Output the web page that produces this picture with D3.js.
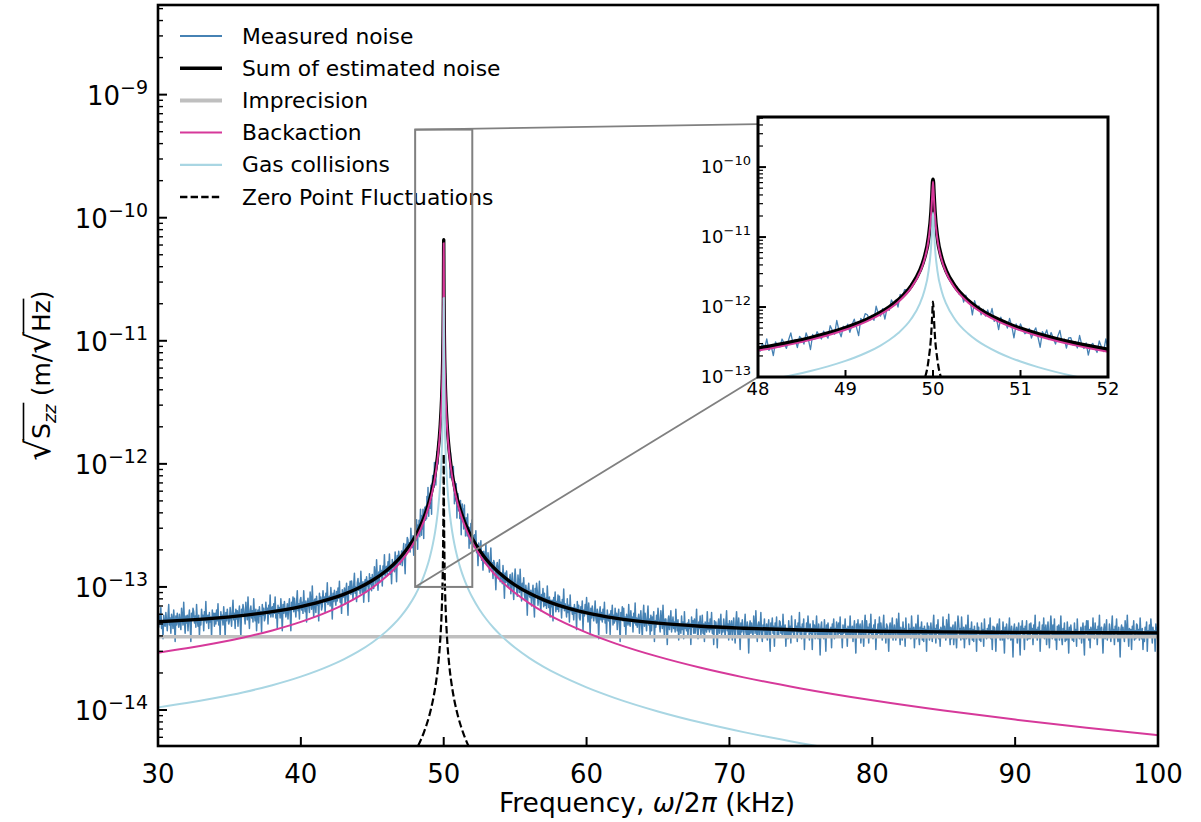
<!DOCTYPE html>
<html>
<head>
<meta charset="utf-8">
<script src="https://cdn.jsdelivr.net/npm/d3@7"></script>
<style>
body { margin: 0; background: #fff; }
svg { display: block; }
text { font-family: "DejaVu Sans", sans-serif; fill: #000; }
</style>
</head>
<body>
<div id="chart"></div>
<script>
// all amplitudes in units of 1e-15 m/sqrt(Hz), frequencies in kHz

// measured spectrum, 30.00 - 47.95 kHz, step 0.05
const noiseA = [
  56, 47, 60, 50, 68, 46, 53, 38, 59, 50,   48, 62, 53, 44, 58, 72, 49, 56, 42, 60,
  55, 46, 65, 52, 36, 58, 49, 61, 53, 47,   60, 52, 45, 67, 56, 49, 75, 53, 42, 58,
  51, 59, 44, 56, 65, 49, 36, 61, 54, 67,   63, 51, 58, 47, 72, 54, 48, 59, 40, 55,
  49, 66, 54, 59, 44, 63, 53, 76, 51, 58,   59, 46, 62, 52, 57, 39, 65, 54, 61, 48,
  61, 50, 65, 53, 73, 49, 57, 40, 63, 54,   59, 49, 69, 56, 39, 62, 53, 66, 57, 50,
  53, 68, 58, 48, 63, 78, 54, 61, 46, 66,   55, 64, 48, 60, 70, 53, 39, 66, 59, 72,
  66, 57, 50, 75, 62, 54, 83, 59, 46, 64,   70, 56, 64, 52, 80, 60, 53, 66, 44, 61,
  65, 51, 69, 58, 63, 43, 72, 59, 67, 53,   56, 75, 62, 67, 50, 71, 60, 86, 57, 66,
  69, 57, 73, 61, 83, 56, 65, 46, 71, 61,   68, 56, 80, 64, 44, 72, 61, 76, 65, 57,
  63, 73, 55, 69, 80, 60, 44, 75, 67, 83,   63, 81, 68, 57, 75, 93, 64, 73, 55, 78,
  82, 65, 75, 61, 93, 70, 63, 77, 52, 72,   81, 70, 62, 91, 76, 66, 102, 72, 57, 78,
  80, 62, 84, 71, 77, 53, 89, 73, 83, 65,   70, 93, 77, 83, 62, 89, 75, 108, 72, 82,
  84, 70, 99, 80, 55, 89, 76, 94, 81, 71,   92, 77, 98, 81, 111, 75, 87, 61, 95, 82,
  85, 98, 73, 92, 107, 80, 59, 101, 90, 111,   87, 112, 95, 79, 104, 129, 89, 100, 76, 108,
  117, 94, 107, 88, 134, 101, 90, 110, 75, 103,   115, 90, 121, 102, 112, 76, 128, 105, 119, 93,
  126, 110, 97, 146, 123, 107, 166, 119, 94, 132,   111, 149, 124, 136, 102, 148, 126, 183, 123, 142,
  147, 124, 160, 134, 185, 127, 149, 106, 167, 145,   159, 133, 192, 156, 110, 180, 154, 195, 171, 152,
  167, 196, 149, 190, 225, 171, 128, 222, 202, 252,   242, 197, 229, 192, 300, 230, 209, 261, 181, 255
]
// measured spectrum, 48.000 - 52.000 kHz, step 0.025
const noiseB = [
  277, 234, 303, 253, 351, 240, 282, 202, 318, 276,
  269, 349, 300, 256, 340, 427, 299, 343, 263, 380,
  353, 296, 427, 349, 247, 406, 349, 444, 390, 349,
  453, 401, 358, 542, 461, 408, 642, 465, 375, 531,
  479, 568, 435, 561, 671, 517, 390, 688, 634, 803,
  776, 644, 760, 646, 1026, 802, 743, 949, 673, 972,
  900, 1263, 1100, 1258, 999, 1518, 1369, 1766,
  1762, 1705, 2154, 2103, 2615, 2730, 3448, 3859, 5113, 6471, 10038, 18870,
  64320,
  19237, 9634, 6791, 4805, 4125, 3141, 3004, 2331, 2380, 1845, 1929, 1521,
  1617, 1175, 1480, 1165, 1200, 770, 1230, 961, 1037, 774,
  930, 742, 911, 723, 953, 622, 696, 475, 715, 593,
  623, 500, 689, 538, 363, 572, 471, 573, 482, 414,
  436, 494, 360, 442, 504, 370, 266, 446, 391, 471,
  343, 432, 359, 296, 381, 463, 315, 349, 259, 363,
  364, 287, 322, 260, 392, 290, 255, 307, 206, 280,
  303, 259, 224, 328, 269, 231, 350, 245
]
// measured spectrum, 52.05 - 100.00 kHz, step 0.05
const noiseC = [
  261, 212, 265, 214, 286, 190, 215, 149, 227, 191,   189, 237, 165, 193, 137, 195, 175, 156, 223, 156,
  151, 190, 159, 132, 170, 207, 141, 157, 117, 164,   156, 133, 95, 146, 158, 120, 135, 166, 110, 125,
  130, 106, 149, 119, 81, 130, 109, 135, 115, 100,   100, 116, 126, 88, 108, 130, 99, 79, 114, 140,
  111, 96, 84, 125, 104, 90, 139, 98, 77, 107,   94, 119, 86, 79, 103, 89, 59, 96, 107, 84,
  82, 94, 70, 88, 103, 77, 57, 97, 87, 107,   93, 71, 82, 111, 74, 64, 87, 77, 97, 69,
  89, 71, 81, 67, 102, 77, 68, 83, 57, 78,   69, 78, 53, 82, 72, 91, 63, 76, 66, 86,
  63, 84, 69, 75, 56, 79, 67, 96, 64, 73,   67, 57, 80, 62, 71, 52, 86, 64, 68, 60,
  68, 54, 72, 61, 67, 45, 76, 63, 71, 56,   54, 69, 61, 77, 44, 65, 58, 72, 61, 82,
  63, 52, 74, 59, 41, 67, 56, 70, 61, 53,   60, 77, 56, 51, 66, 57, 38, 62, 69, 54,
  62, 52, 66, 55, 75, 51, 59, 42, 65, 55,   53, 60, 41, 64, 56, 71, 49, 59, 51, 67,
  53, 61, 45, 57, 66, 50, 36, 62, 56, 69,   53, 67, 48, 57, 41, 60, 54, 49, 72, 51,
  48, 64, 53, 57, 43, 61, 51, 74, 49, 56,   47, 55, 60, 42, 53, 64, 49, 39, 57, 71,
  48, 61, 52, 44, 57, 70, 49, 55, 41, 59,   44, 57, 50, 63, 36, 53, 47, 59, 50, 67,
  57, 49, 43, 64, 53, 46, 71, 50, 39, 55,   55, 47, 34, 53, 58, 45, 51, 64, 43, 49,
  57, 46, 52, 43, 66, 49, 44, 54, 37, 50,   49, 42, 58, 45, 52, 38, 63, 46, 50, 44,
  51, 40, 54, 46, 50, 34, 57, 47, 53, 42,   55, 42, 49, 66, 44, 38, 52, 46, 58, 41,
  46, 59, 42, 50, 36, 52, 48, 43, 63, 45,   51, 43, 55, 45, 62, 42, 48, 34, 53, 46,
  52, 45, 32, 50, 55, 42, 49, 60, 41, 47,   43, 55, 47, 39, 51, 64, 44, 50, 37, 53,
  41, 48, 53, 37, 47, 56, 43, 35, 51, 63,   48, 40, 56, 45, 31, 51, 43, 54, 46, 41,
  47, 60, 43, 40, 52, 45, 29, 48, 53, 42,   51, 44, 39, 58, 48, 42, 64, 45, 36, 49,
  52, 40, 46, 62, 42, 36, 49, 44, 55, 39,   43, 50, 37, 47, 54, 41, 30, 51, 46, 56,
  42, 48, 33, 51, 45, 57, 39, 47, 41, 53,   52, 42, 48, 39, 60, 45, 40, 49, 33, 46,
  45, 38, 53, 41, 48, 35, 58, 43, 46, 40,   40, 54, 44, 48, 36, 51, 43, 62, 41, 47,
  38, 50, 44, 55, 31, 46, 41, 51, 43, 58,   47, 37, 50, 42, 46, 31, 53, 43, 49, 38,
  45, 58, 42, 38, 50, 43, 28, 47, 52, 40,   46, 38, 54, 43, 30, 49, 41, 51, 44, 39,
  42, 47, 32, 50, 44, 55, 38, 46, 40, 52,   48, 40, 51, 42, 57, 39, 45, 32, 49, 42,
  43, 55, 39, 46, 33, 48, 44, 40, 58, 41,   42, 48, 36, 45, 53, 40, 29, 50, 44, 54,
  39, 46, 50, 35, 44, 53, 41, 33, 48, 59,   39, 53, 43, 47, 35, 50, 42, 60, 40, 46,
  38, 49, 43, 54, 31, 45, 40, 50, 42, 57,   40, 51, 44, 37, 48, 59, 41, 46, 35, 50,
  48, 41, 30, 47, 51, 39, 45, 56, 37, 43,   49, 42, 37, 55, 46, 40, 61, 43, 34, 47,
  43, 37, 52, 40, 46, 33, 56, 41, 44, 39,   50, 40, 46, 38, 58, 43, 39, 47, 32, 44,
  50, 38, 44, 59, 40, 34, 47, 42, 52, 37,   46, 36, 48, 41, 45, 30, 51, 42, 48, 37,
  40, 51, 43, 36, 48, 59, 41, 46, 35, 49,   42, 54, 38, 45, 33, 47, 43, 39, 57, 41,
  48, 42, 37, 54, 45, 39, 60, 43, 34, 47,   38, 45, 49, 34, 43, 52, 40, 32, 47, 58,
  50, 40, 46, 37, 57, 43, 38, 47, 32, 44,   49, 38, 43, 59, 40, 34, 46, 41, 52, 37,
  45, 36, 48, 40, 44, 30, 51, 42, 47, 37,   43, 36, 51, 39, 45, 33, 55, 41, 44, 38,
  46, 39, 49, 41, 56, 38, 44, 31, 48, 41,   47, 41, 30, 46, 50, 39, 44, 55, 37, 42,
  44, 37, 52, 42, 29, 47, 40, 50, 43, 38,   44, 56, 40, 37, 48, 41, 27, 45, 50, 39,
  41, 47, 35, 44, 51, 38, 28, 48, 43, 53,   40, 46, 31, 48, 42, 53, 37, 44, 38, 50,
  38, 51, 42, 46, 34, 49, 41, 59, 39, 45,   37, 47, 42, 52, 30, 44, 39, 49, 41, 56,
  38, 44, 49, 34, 43, 52, 40, 32, 46, 58,   46, 38, 49, 40, 55, 37, 43, 31, 48, 41,
  49, 37, 43, 58, 39, 34, 46, 41, 51, 36,   44, 37, 52, 42, 29, 47, 40, 49, 43, 37,
  43, 36, 51, 39, 45, 33, 55, 40, 43, 38,   40, 47, 35, 44, 51, 38, 28, 48, 43, 53,
  41, 53, 37, 45, 32, 47, 43, 39, 56, 40,   38, 51, 42, 45, 34, 48, 41, 59, 39, 45,
  47, 40, 29, 45, 50, 38, 44, 54, 37, 42,   39, 50, 42, 36, 47, 58, 40, 45, 34, 48,
  43, 55, 40, 36, 47, 41, 27, 45, 49, 39,   47, 41, 36, 53, 45, 39, 59, 42, 33, 46,
  40, 45, 31, 48, 42, 53, 37, 44, 38, 50,   49, 39, 45, 37, 56, 42, 38, 46, 31, 43,
  36, 47, 41, 52, 30, 44, 39, 49, 41, 55,   45, 35, 47, 40, 44, 30, 50, 41, 47, 36
]

// estimated noise curves, read at these frequencies
const modelFreq = [30, 32, 34, 36, 38, 40, 42, 43, 44, 45, 46, 46.5, 47, 47.5, 48, 48.2, 48.4, 48.6, 48.8, 49,
  49.1, 49.25, 49.4, 49.5, 49.6, 49.75, 49.85, 49.9, 49.95, 49.98, 49.99, 50, 50.01, 50.02, 50.05, 50.1,
  50.15, 50.25, 50.4, 50.5, 50.6, 50.75, 50.9, 51, 51.2, 51.4, 51.6, 51.8, 52, 52.5, 53, 53.5, 54, 55, 56,
  57, 58, 60, 62, 65, 68, 71, 75, 80, 85, 90, 95, 100]
const sumNoise = [52.1, 53.7, 55.8, 58.8, 63.0, 69.3, 79.5, 87.1, 97.6, 112.7, 136.1, 153.0, 175.9, 208.2, 257.1,
  284.5, 318.6, 362.7, 421.6, 504.0, 559.1, 669.4, 835, 1000.5, 1249, 1994, 3316, 4965, 9842, 23288, 39792,
  66309, 39779, 23277, 9831, 4954, 3306, 1984, 1239, 990.6, 825, 659.5, 549.2, 494.2, 411.6, 352.8, 308.8,
  274.6, 247.4, 198.6, 166.3, 143.5, 126.6, 103.5, 88.7, 78.5, 71.1, 61.6, 55.8, 50.8, 47.9, 46.2, 44.7,
  43.7, 43.1, 42.7, 42.5, 42.3]
const backaction = [29.25, 31.71, 34.82, 38.87, 44.32, 52.0, 63.59, 71.89, 82.98, 98.53, 121.9, 138.6, 160.8,
  192.0, 238.8, 264.8, 297.3, 339.0, 394.7, 472.7, 524.7, 628.7, 784.7, 940.7, 1174.7, 1875.7, 3120, 4671.6,
  9261, 21915, 37446, 62400, 37434, 21905, 9252, 4662, 3111, 1866.5, 1165.3, 931.3, 775.3, 619.4, 515.4,
  463.4, 385.4, 329.7, 287.9, 255.4, 229.4, 182.6, 151.5, 129.2, 112.5, 89.14, 73.58, 62.48, 54.17, 42.55,
  34.82, 27.13, 22.03, 18.42, 14.98, 12.0, 9.905, 8.357, 7.172, 6.24]
const gasCollisions = [10.5, 11.38, 12.5, 13.95, 15.91, 18.67, 22.83, 25.81, 29.79, 35.37, 43.75, 49.74, 57.73,
  68.92, 85.71, 95.04, 106.7, 121.7, 141.7, 169.7, 188.4, 225.7, 281.7, 337.7, 421.7, 673.3, 1120, 1677,
  3324.6, 7867, 13442, 22400, 13438, 7863, 3321, 1673.6, 1117, 670.0, 418.3, 334.3, 278.3, 222.3, 185.0,
  166.3, 138.3, 118.3, 103.3, 91.69, 82.35, 65.56, 54.37, 46.38, 40.38, 32.0, 26.42, 22.43, 19.44, 15.27,
  12.5, 9.739, 7.91, 6.612, 5.376, 4.308, 3.556, 3.0, 2.575, 2.24]
const zeroPoint = [0.5625, 0.61, 0.67, 0.748, 0.852, 1.0, 1.223, 1.382, 1.596, 1.895, 2.344, 2.665, 3.093,
  3.692, 4.592, 5.09, 5.716, 6.52, 7.591, 9.09, 10.09, 12.09, 15.09, 18.09, 22.59, 36.07, 60.0, 89.84,
  178.1, 421.4, 720.1, 1200, 719.9, 421.2, 177.9, 89.66, 59.84, 35.89, 22.41, 17.91, 14.91, 11.91, 9.911,
  8.911, 7.411, 6.34, 5.536, 4.91, 4.412, 3.512, 2.913, 2.484, 2.163, 1.714, 1.415, 1.202, 1.042, 0.818,
  0.67, 0.522, 0.424, 0.354, 0.288, 0.231, 0.19, 0.161, 0.138, 0.12]
const imprecisionLevel = 39.4

const legendLabels = ["Measured noise", "Sum of estimated noise", "Imprecision", "Backaction",
  "Gas collisions", "Zero Point Fluctuations"]
const xTicks = [30, 40, 50, 60, 70, 80, 90, 100]
const yExponents = [-14, -13, -12, -11, -10, -9]
const insetXTicks = [48, 49, 50, 51, 52]
const insetYExponents = [-13, -12, -11, -10]
const zoomBox = {f0: 48, f1: 52, a0: 1e-13, a1: 5.2e-10}

const fm = 1e-15
const measured = [
  ...noiseA.map((v, i) => [30 + i / 20, v]),
  ...noiseB.map((v, i) => [48 + i / 40, v]),
  ...noiseC.map((v, i) => [(1041 + i) / 20, v])
]
const pairs = vals => modelFreq.map((f, i) => [f, vals[i]])

const styles = [
  {color: "#4682b4", width: 1.5, insetWidth: 1.3, legendWidth: 1.8},
  {color: "#000000", width: 3.4, insetWidth: 4, legendWidth: 3.4},
  {color: "#bfbfbf", width: 3.4, insetWidth: 3.4, legendWidth: 4},
  {color: "#d6399a", width: 2, insetWidth: 2, legendWidth: 2},
  {color: "#a9d6e3", width: 2, insetWidth: 2, legendWidth: 2.2},
  {color: "#000000", width: 2.2, insetWidth: 2.2, legendWidth: 2.4, dash: "7.4,3.2"}
]
const series = [
  measured,
  pairs(sumNoise),
  [[30, imprecisionLevel], [100, imprecisionLevel]],
  pairs(backaction),
  pairs(gasCollisions),
  pairs(zeroPoint)
]

const width = 1201, height = 822
const svg = d3.select("#chart").append("svg")
  .attr("width", width).attr("height", height)

const x = d3.scaleLinear().domain([30, 100]).range([158, 1158])
const y = d3.scaleLog().domain([5.1e-15, 5.35e-9]).range([746, 5])
const ix = d3.scaleLinear().domain([48, 52]).range([758, 1108])
const iy = d3.scaleLog().domain([1e-13, 5.2e-10]).range([377, 117])

const defs = svg.append("defs")
defs.append("clipPath").attr("id", "clipMain").append("rect")
  .attr("x", 158).attr("y", 5).attr("width", 1000).attr("height", 741)
defs.append("clipPath").attr("id", "clipInset").append("rect")
  .attr("x", 758).attr("y", 117).attr("width", 350).attr("height", 260)

function drawSeries(g, sx, sy, inset) {
  series.forEach((data, i) => {
    const line = d3.line().x(d => sx(d[0])).y(d => sy(d[1] * fm))
    if (i > 0) line.curve(d3.curveMonotoneX)
    const s = styles[i]
    g.append("path").datum(data)
      .attr("d", line)
      .attr("fill", "none")
      .attr("stroke", s.color)
      .attr("stroke-width", inset ? s.insetWidth : s.width)
      .attr("stroke-linejoin", "round")
      .attr("stroke-dasharray", s.dash || null)
  })
}

function powLabel(g, px, py, e, big, small, rise) {
  const t = g.append("text").attr("x", px).attr("y", py)
    .attr("text-anchor", "end").style("font-size", big + "px")
  t.append("tspan").text("10")
  t.append("tspan").attr("dy", -rise).style("font-size", small + "px").text("\u2212" + Math.abs(e))
}

function minorValues(scale) {
  const [lo, hi] = scale.domain()
  const out = []
  for (let e = -16; e <= -8; e++)
    for (let k = 2; k <= 9; k++) {
      const v = k * Math.pow(10, e)
      if (v > lo && v < hi) out.push(v)
    }
  return out
}

// ---- main axes
const layer_main = svg.append("g").attr("clip-path", "url(#clipMain)")
drawSeries(layer_main, x, y, false)

const layer_axes = svg.append("g")
minorValues(y).forEach(v => {
  layer_axes.append("line").attr("x1", 158).attr("x2", 163)
    .attr("y1", y(v)).attr("y2", y(v)).attr("stroke", "#000").attr("stroke-width", 1.4)
})
yExponents.forEach(e => {
  const v = Math.pow(10, e)
  layer_axes.append("line").attr("x1", 158).attr("x2", 167)
    .attr("y1", y(v)).attr("y2", y(v)).attr("stroke", "#000").attr("stroke-width", 2)
  powLabel(layer_axes, 148, y(v) + 10, e, 26, 19, 11)
})
xTicks.forEach(t => {
  layer_axes.append("line").attr("x1", x(t)).attr("x2", x(t))
    .attr("y1", 746).attr("y2", 737).attr("stroke", "#000").attr("stroke-width", 2)
  layer_axes.append("text").attr("x", x(t)).attr("y", 783)
    .attr("text-anchor", "middle").style("font-size", "26px").text(t)
})
layer_axes.append("rect").attr("x", 158).attr("y", 5).attr("width", 1000).attr("height", 741)
  .attr("fill", "none").attr("stroke", "#000").attr("stroke-width", 2.6)

// x label
const xl = layer_axes.append("text").attr("x", 647).attr("y", 812)
  .attr("text-anchor", "middle").style("font-size", "26.5px")
xl.append("tspan").text("Frequency, ")
xl.append("tspan").style("font-style", "italic").text("\u03c9")
xl.append("tspan").text("/2")
xl.append("tspan").style("font-style", "italic").text("\u03c0")
xl.append("tspan").text(" (kHz)")

// y label with radicals
const gy = layer_axes.append("g").attr("transform", "translate(50,375.5) rotate(-90)")
const yt = gy.append("text").attr("text-anchor", "middle").style("font-size", "25px")
yt.append("tspan").style("font-size", "34px").text("\u221a")
yt.append("tspan").text("S")
yt.append("tspan").style("font-style", "italic").style("font-size", "18px").attr("dy", 6).text("zz")
yt.append("tspan").attr("dy", -6).text(" (m/")
yt.append("tspan").style("font-size", "34px").text("\u221a")
yt.append("tspan").text("Hz)")
const yn = yt.node()
;[[0, 3], [8, 10]].forEach(([a, b]) => {
  const p0 = yn.getEndPositionOfChar(a).x
  const p1 = yn.getEndPositionOfChar(b).x
  gy.append("line").attr("x1", p0 - 1.5).attr("x2", p1 + 1.5)
    .attr("y1", -26.5).attr("y2", -26.5).attr("stroke", "#000").attr("stroke-width", 1.6)
})

// ---- legend
const layer_legend = svg.append("g")
legendLabels.forEach((label, i) => {
  const ly = 36 + i * 32.2
  const s = styles[i]
  layer_legend.append("line").attr("x1", 180).attr("x2", 222).attr("y1", ly).attr("y2", ly)
    .attr("stroke", s.color).attr("stroke-width", s.legendWidth)
    .attr("stroke-dasharray", s.dash || null)
  layer_legend.append("text").attr("x", 242).attr("y", ly + 7.5)
    .style("font-size", "21.8px").text(label)
})

// ---- zoom indicator
const layer_zoom = svg.append("g")
layer_zoom.append("rect")
  .attr("x", x(zoomBox.f0)).attr("y", y(zoomBox.a1))
  .attr("width", x(zoomBox.f1) - x(zoomBox.f0)).attr("height", y(zoomBox.a0) - y(zoomBox.a1))
  .attr("fill", "none").attr("stroke", "#808080").attr("stroke-width", 2)
layer_zoom.append("line")
  .attr("x1", x(zoomBox.f0)).attr("y1", y(zoomBox.a1))
  .attr("x2", ix(zoomBox.f0)).attr("y2", iy(4.1e-10))
  .attr("stroke", "#808080").attr("stroke-width", 1.8)
layer_zoom.append("line")
  .attr("x1", x(zoomBox.f0)).attr("y1", y(zoomBox.a0))
  .attr("x2", ix(zoomBox.f0)).attr("y2", iy(zoomBox.a0))
  .attr("stroke", "#808080").attr("stroke-width", 1.8)

// ---- inset
const layer_inset = svg.append("g")
layer_inset.append("rect").attr("x", 758).attr("y", 117).attr("width", 350).attr("height", 260)
  .attr("fill", "#fff")
drawSeries(layer_inset.append("g").attr("clip-path", "url(#clipInset)"), ix, iy, true)
minorValues(iy).forEach(v => {
  layer_inset.append("line").attr("x1", 758).attr("x2", 763)
    .attr("y1", iy(v)).attr("y2", iy(v)).attr("stroke", "#000").attr("stroke-width", 1.2)
})
insetYExponents.forEach(e => {
  const v = Math.pow(10, e)
  layer_inset.append("line").attr("x1", 758).attr("x2", 766)
    .attr("y1", iy(v)).attr("y2", iy(v)).attr("stroke", "#000").attr("stroke-width", 2)
  powLabel(layer_inset, 751, iy(v) + 6, e, 18, 13, 8)
})
insetXTicks.forEach(t => {
  layer_inset.append("line").attr("x1", ix(t)).attr("x2", ix(t))
    .attr("y1", 377).attr("y2", 370).attr("stroke", "#000").attr("stroke-width", 2)
  layer_inset.append("text").attr("x", ix(t)).attr("y", 395)
    .attr("text-anchor", "middle").style("font-size", "18px").text(t)
})
layer_inset.append("rect").attr("x", 758).attr("y", 117).attr("width", 350).attr("height", 260)
  .attr("fill", "none").attr("stroke", "#000").attr("stroke-width", 3)
</script>
</body>
</html>
